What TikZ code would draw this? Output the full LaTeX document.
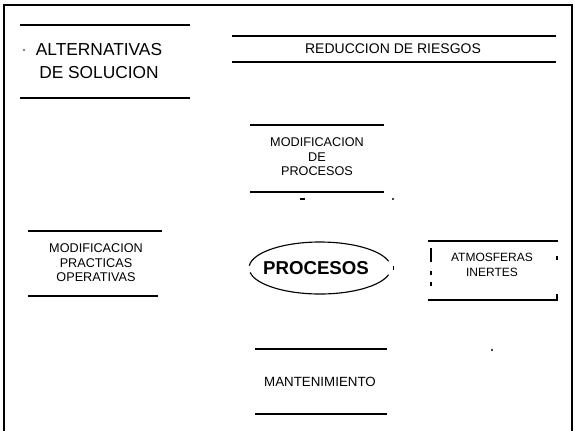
\documentclass[tikz,border=0pt]{standalone}
\usepackage{fontspec}
\setmainfont{Liberation Sans}
\begin{document}
\begin{tikzpicture}
[
	x=0.75pt,y=-0.75pt,
	hrule/.style={line width=0.85pt},
	frameline/.style={line width=1.4pt},
	smalltxt/.style={align=center,inner sep=0pt,font=\fontsize{9.5}{10.9}\selectfont},
	midtxt/.style={align=center,inner sep=0pt,font=\fontsize{10.5}{12}\selectfont},
	bigtxt/.style={align=center,inner sep=0pt,font=\fontsize{13}{17.3}\selectfont},
	dotpt/.style={circle,fill,inner sep=0pt,minimum size=1.6pt}
]
	\useasboundingbox (0,0) rectangle (575,430);

	% outer frame, open at the bottom
	\draw[frameline] (4,432) -- (4,5) -- (572,5) -- (572,432);

	% alternativas de solucion
	\draw[hrule] (20,25) -- (190,25);
	\draw[hrule] (20,98) -- (190,98);
	\node[bigtxt] (alt) at (99,61) {ALTERNATIVAS\\DE SOLUCION};
	\node[dotpt,minimum size=1.2pt] (altdot) at (24,50) {};

	% reduccion de riesgos
	\draw[hrule] (232,36) -- (556,36);
	\draw[hrule] (232,62) -- (556,62);
	\node[midtxt] (red) at (393,49) {REDUCCION DE RIESGOS};

	% modificacion de procesos
	\draw[hrule] (250,125) -- (384,125);
	\draw[hrule] (250,192) -- (384,192);
	\node[smalltxt] (modproc) at (317,157) {MODIFICACION\\DE\\PROCESOS};
	\draw[hrule] (300,199) -- (305,199);
	\node[dotpt] (procdot) at (393,199) {};

	% modificacion practicas operativas
	\draw[hrule] (28,231) -- (162,231);
	\draw[hrule] (28,296) -- (158,296);
	\node[smalltxt] (modprac) at (96,263) {MODIFICACION\\PRACTICAS\\OPERATIVAS};

	% procesos
	\node[font=\fontsize{14}{16}\selectfont\bfseries,inner sep=0pt] (proc) at (316,268) {PROCESOS};
	\draw[hrule] (320,268) ++(185:71 and 26) arc[start angle=185,end angle=345,x radius=71,y radius=26];
	\draw[hrule] (320,268) ++(15:71 and 26) arc[start angle=15,end angle=170,x radius=71,y radius=26];
	\draw[hrule] (320,268) ++(-4:74 and 26) arc[start angle=-4,end angle=4,x radius=74,y radius=26];

	% atmosferas inertes
	\draw[hrule] (428,241) -- (558,241);
	\draw[hrule] (428,300) -- (558,300);
	\draw[hrule] (431,248) -- (431,262);
	\draw[hrule] (431,271) -- (431,275);
	\draw[hrule] (431,282) -- (431,286);
	\draw[hrule] (557,256) -- (557,260);
	\draw[hrule] (557,294) -- (557,299);
	\node[smalltxt,font=\fontsize{9}{10.9}\selectfont] (atm) at (492,265) {ATMOSFERAS\\INERTES};

	% mantenimiento
	\draw[hrule] (255,349) -- (387,349);
	\draw[hrule] (255,414) -- (387,414);
	\node[smalltxt,font=\fontsize{10}{12}\selectfont] (mant) at (320,382) {MANTENIMIENTO};
	\node[dotpt] (mantdot) at (492,350) {};

\end{tikzpicture}
\end{document}
